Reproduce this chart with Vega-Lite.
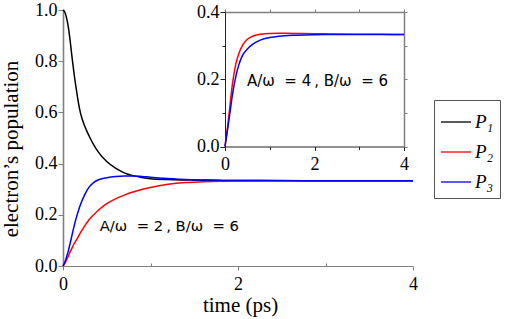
{
  "$schema": "https://vega.github.io/schema/vega-lite/v6.json",
  "width": 350,
  "height": 256,
  "autosize": {"type": "none"},
  "padding": {"left": 63, "top": 10, "right": 95, "bottom": 53},
  "background": "white",
  "config": {
    "view": {"stroke": null},
    "axis": {"grid": false, "labelFont": "Liberation Serif", "titleFont": "Liberation Serif", "titleFontWeight": 400},
    "style": {
      "guide-label": {"font": "Liberation Serif", "fontSize": 18, "fill": "black"},
      "guide-title": {"font": "Liberation Serif", "fontSize": 21, "fontWeight": 400, "fill": "black"}
    }
  },
  "datasets": {
    "main": [
      {"t": 0, "p": 1.0, "series": "P₁"}, {"t": 0.02, "p": 0.992, "series": "P₁"}, {"t": 0.04, "p": 0.970, "series": "P₁"}, {"t": 0.06, "p": 0.935, "series": "P₁"}, {"t": 0.08, "p": 0.885, "series": "P₁"}, {"t": 0.1, "p": 0.825, "series": "P₁"}, {"t": 0.125, "p": 0.755, "series": "P₁"}, {"t": 0.15, "p": 0.695, "series": "P₁"}, {"t": 0.175, "p": 0.640, "series": "P₁"}, {"t": 0.2, "p": 0.597, "series": "P₁"}, {"t": 0.25, "p": 0.545, "series": "P₁"}, {"t": 0.3, "p": 0.507, "series": "P₁"}, {"t": 0.35, "p": 0.474, "series": "P₁"}, {"t": 0.4, "p": 0.447, "series": "P₁"}, {"t": 0.5, "p": 0.408, "series": "P₁"}, {"t": 0.6, "p": 0.382, "series": "P₁"}, {"t": 0.7, "p": 0.364, "series": "P₁"}, {"t": 0.8, "p": 0.353, "series": "P₁"}, {"t": 0.9, "p": 0.346, "series": "P₁"}, {"t": 1.0, "p": 0.341, "series": "P₁"}, {"t": 1.2, "p": 0.3375, "series": "P₁"}, {"t": 1.4, "p": 0.336, "series": "P₁"}, {"t": 1.6, "p": 0.335, "series": "P₁"}, {"t": 1.8, "p": 0.3343, "series": "P₁"}, {"t": 2.0, "p": 0.3338, "series": "P₁"}, {"t": 2.5, "p": 0.3334, "series": "P₁"}, {"t": 3.0, "p": 0.3333, "series": "P₁"}, {"t": 4.0, "p": 0.3333, "series": "P₁"},
      {"t": 0, "p": 0, "series": "P₂"}, {"t": 0.02, "p": 0.010, "series": "P₂"}, {"t": 0.04, "p": 0.023, "series": "P₂"}, {"t": 0.06, "p": 0.037, "series": "P₂"}, {"t": 0.08, "p": 0.054, "series": "P₂"}, {"t": 0.1, "p": 0.068, "series": "P₂"}, {"t": 0.125, "p": 0.086, "series": "P₂"}, {"t": 0.15, "p": 0.100, "series": "P₂"}, {"t": 0.175, "p": 0.115, "series": "P₂"}, {"t": 0.2, "p": 0.130, "series": "P₂"}, {"t": 0.25, "p": 0.158, "series": "P₂"}, {"t": 0.3, "p": 0.182, "series": "P₂"}, {"t": 0.35, "p": 0.200, "series": "P₂"}, {"t": 0.4, "p": 0.217, "series": "P₂"}, {"t": 0.5, "p": 0.244, "series": "P₂"}, {"t": 0.6, "p": 0.262, "series": "P₂"}, {"t": 0.7, "p": 0.277, "series": "P₂"}, {"t": 0.8, "p": 0.289, "series": "P₂"}, {"t": 0.9, "p": 0.299, "series": "P₂"}, {"t": 1.0, "p": 0.307, "series": "P₂"}, {"t": 1.2, "p": 0.319, "series": "P₂"}, {"t": 1.4, "p": 0.326, "series": "P₂"}, {"t": 1.6, "p": 0.329, "series": "P₂"}, {"t": 1.8, "p": 0.331, "series": "P₂"}, {"t": 2.0, "p": 0.332, "series": "P₂"}, {"t": 2.5, "p": 0.3332, "series": "P₂"}, {"t": 3.0, "p": 0.3333, "series": "P₂"}, {"t": 4.0, "p": 0.3333, "series": "P₂"},
      {"t": 0, "p": 0, "series": "P₃"}, {"t": 0.02, "p": 0.014, "series": "P₃"}, {"t": 0.04, "p": 0.034, "series": "P₃"}, {"t": 0.06, "p": 0.058, "series": "P₃"}, {"t": 0.08, "p": 0.086, "series": "P₃"}, {"t": 0.1, "p": 0.116, "series": "P₃"}, {"t": 0.125, "p": 0.153, "series": "P₃"}, {"t": 0.15, "p": 0.186, "series": "P₃"}, {"t": 0.175, "p": 0.215, "series": "P₃"}, {"t": 0.2, "p": 0.240, "series": "P₃"}, {"t": 0.25, "p": 0.280, "series": "P₃"}, {"t": 0.3, "p": 0.309, "series": "P₃"}, {"t": 0.35, "p": 0.326, "series": "P₃"}, {"t": 0.4, "p": 0.336, "series": "P₃"}, {"t": 0.5, "p": 0.345, "series": "P₃"}, {"t": 0.6, "p": 0.350, "series": "P₃"}, {"t": 0.7, "p": 0.352, "series": "P₃"}, {"t": 0.8, "p": 0.352, "series": "P₃"}, {"t": 0.9, "p": 0.350, "series": "P₃"}, {"t": 1.0, "p": 0.347, "series": "P₃"}, {"t": 1.2, "p": 0.342, "series": "P₃"}, {"t": 1.4, "p": 0.338, "series": "P₃"}, {"t": 1.6, "p": 0.336, "series": "P₃"}, {"t": 1.8, "p": 0.3345, "series": "P₃"}, {"t": 2.0, "p": 0.334, "series": "P₃"}, {"t": 2.5, "p": 0.3335, "series": "P₃"}, {"t": 3.0, "p": 0.3333, "series": "P₃"}, {"t": 4.0, "p": 0.3333, "series": "P₃"}
    ],
    "inset": [
      {"t": 0, "p": 0, "series": "P₂"}, {"t": 0.04, "p": 0.040, "series": "P₂"}, {"t": 0.08, "p": 0.082, "series": "P₂"}, {"t": 0.12, "p": 0.132, "series": "P₂"}, {"t": 0.16, "p": 0.180, "series": "P₂"}, {"t": 0.2, "p": 0.215, "series": "P₂"}, {"t": 0.25, "p": 0.250, "series": "P₂"}, {"t": 0.3, "p": 0.273, "series": "P₂"}, {"t": 0.4, "p": 0.303, "series": "P₂"}, {"t": 0.5, "p": 0.319, "series": "P₂"}, {"t": 0.6, "p": 0.327, "series": "P₂"}, {"t": 0.8, "p": 0.334, "series": "P₂"}, {"t": 1.0, "p": 0.3362, "series": "P₂"}, {"t": 1.2, "p": 0.3365, "series": "P₂"}, {"t": 1.6, "p": 0.3362, "series": "P₂"}, {"t": 2.0, "p": 0.3355, "series": "P₂"}, {"t": 2.4, "p": 0.3345, "series": "P₂"}, {"t": 3.0, "p": 0.3338, "series": "P₂"}, {"t": 3.5, "p": 0.3335, "series": "P₂"}, {"t": 4.0, "p": 0.3334, "series": "P₂"},
      {"t": 0, "p": 0, "series": "P₃"}, {"t": 0.04, "p": 0.035, "series": "P₃"}, {"t": 0.08, "p": 0.072, "series": "P₃"}, {"t": 0.12, "p": 0.110, "series": "P₃"}, {"t": 0.16, "p": 0.148, "series": "P₃"}, {"t": 0.2, "p": 0.180, "series": "P₃"}, {"t": 0.25, "p": 0.213, "series": "P₃"}, {"t": 0.3, "p": 0.239, "series": "P₃"}, {"t": 0.4, "p": 0.273, "series": "P₃"}, {"t": 0.5, "p": 0.290, "series": "P₃"}, {"t": 0.6, "p": 0.302, "series": "P₃"}, {"t": 0.8, "p": 0.317, "series": "P₃"}, {"t": 1.0, "p": 0.324, "series": "P₃"}, {"t": 1.2, "p": 0.328, "series": "P₃"}, {"t": 1.6, "p": 0.331, "series": "P₃"}, {"t": 2.0, "p": 0.3325, "series": "P₃"}, {"t": 2.4, "p": 0.333, "series": "P₃"}, {"t": 3.0, "p": 0.3333, "series": "P₃"}, {"t": 3.5, "p": 0.3333, "series": "P₃"}, {"t": 4.0, "p": 0.3333, "series": "P₃"}
    ],
    "frame": [{"t": 0, "p": 0}, {"t": 4, "p": 0.4}]
  },
  "layer": [
    {
      "layer": [
        {
          "data": {"name": "main"},
          "mark": {"type": "line", "strokeWidth": 1.5, "interpolate": "monotone"},
          "encoding": {
            "x": {"field": "t", "type": "quantitative",
              "scale": {"domain": [0, 4], "nice": false, "zero": false},
              "axis": {"orient": "bottom", "title": "time (ps)", "titleFont": "Liberation Serif", "titleFontSize": 21, "titleFontWeight": 400, "titleColor": "black", "titleX": 177, "titleY": 45.5, "titleAlign": "center", "titleBaseline": "alphabetic",
                "values": [0, 1, 2, 3, 4], "labelExpr": "datum.value % 2 == 0 ? format(datum.value, 'd') : ''",
                "labelFont": "Liberation Serif", "labelFontSize": 18, "labelColor": "black",
                "domainColor": "#808080", "domainWidth": 1.2, "tickColor": "#808080",
                "tickSize": {"condition": {"test": "datum.value % 2 == 0", "value": 4}, "value": -3},
                "labelPadding": 5, "labelFlush": false}},
            "y": {"field": "p", "type": "quantitative",
              "scale": {"domain": [0, 1], "nice": false},
              "axis": {"orient": "left", "title": "electron’s population", "titleFont": "Liberation Serif", "titleFontSize": 21, "titleFontWeight": 400, "titleColor": "black", "titleX": -42, "titleY": 138.5, "titleAlign": "center", "titleAngle": -90, "titleBaseline": "bottom",
                "values": [0, 0.1, 0.2, 0.3, 0.4, 0.5, 0.6, 0.7, 0.8, 0.9, 1.0],
                "labelExpr": "round(datum.value * 10) % 2 == 0 ? format(datum.value, '.1f') : ''",
                "labelFont": "Liberation Serif", "labelFontSize": 18, "labelColor": "black",
                "domainColor": "#808080", "domainWidth": 1.6, "tickColor": "#808080",
                "tickSize": {"condition": {"test": "round(datum.value * 10) % 2 == 0", "value": 5}, "value": 3},
                "labelPadding": 1, "labelFlush": false}},
            "color": {"field": "series", "type": "nominal",
              "scale": {"domain": ["P₁", "P₂", "P₃"], "range": ["#000000", "#ff0000", "#0000ff"]},
              "legend": {"orient": "none", "legendX": 371, "legendY": 90, "title": null, "strokeColor": "#555555", "fillColor": "white", "padding": 6,
                "symbolType": "stroke", "symbolSize": 900, "symbolStrokeWidth": 1.3,
                "labelFont": "Liberation Serif", "labelFontStyle": "italic", "labelFontSize": 19, "labelColor": "black", "labelOffset": 3, "rowPadding": 4}}
          }
        },
        {
          "data": {"values": [{"t": 0.42, "p": 0.136, "label": "A/ω\u00a0\u00a0=\u00a02\u2009,\u00a0B/ω\u00a0\u00a0=\u00a06"}]},
          "mark": {"type": "text", "align": "left", "baseline": "alphabetic", "font": "DejaVu Sans", "fontSize": 14.8, "color": "black"},
          "encoding": {
            "x": {"field": "t", "type": "quantitative"},
            "y": {"field": "p", "type": "quantitative"},
            "text": {"field": "label"}
          }
        }
      ]
    },
    {
      "layer": [
        {
          "data": {"name": "inset"},
          "mark": {"type": "line", "strokeWidth": 1.5, "interpolate": "monotone"},
          "encoding": {
            "x": {"field": "t", "type": "quantitative",
              "scale": {"domain": [0, 4], "range": [162, 341], "nice": false, "zero": false},
              "axis": {"orient": "bottom", "offset": -119.5, "title": null,
                "values": [0, 1, 2, 3, 4], "labelExpr": "datum.value % 2 == 0 ? format(datum.value, 'd') : ''",
                "labelFont": "Liberation Serif", "labelFontSize": 18, "labelColor": "black",
                "domainColor": "#222222", "tickColor": "#222222",
                "tickSize": {"condition": {"test": "datum.value % 2 == 0", "value": 4}, "value": 3},
                "labelPadding": 5, "labelFlush": false}},
            "y": {"field": "p", "type": "quantitative",
              "scale": {"domain": [0, 0.4], "range": [136.5, 2], "nice": false},
              "axis": {"orient": "left", "offset": -162, "title": null,
                "values": [0, 0.1, 0.2, 0.3, 0.4],
                "labelExpr": "round(datum.value * 10) % 2 == 0 ? format(datum.value, '.1f') : ''",
                "labelFont": "Liberation Serif", "labelFontSize": 18, "labelColor": "black",
                "domainColor": "#222222", "tickColor": "#222222",
                "tickSize": {"condition": {"test": "round(datum.value * 10) % 2 == 0", "value": 5}, "value": 3},
                "labelPadding": 1, "labelFlush": false}},
            "color": {"field": "series", "type": "nominal", "legend": null}
          }
        },
        {
          "data": {"values": [{"t": 0.49, "p": 0.181, "label": "A/ω\u00a0\u00a0=\u00a04\u2009,\u00a0B/ω\u00a0\u00a0=\u00a06"}]},
          "mark": {"type": "text", "align": "left", "baseline": "alphabetic", "font": "DejaVu Sans", "fontSize": 15, "color": "black"},
          "encoding": {
            "x": {"field": "t", "type": "quantitative"},
            "y": {"field": "p", "type": "quantitative"},
            "text": {"field": "label"}
          }
        }
      ]
    },
    {
      "data": {"name": "frame"},
      "mark": {"type": "point", "opacity": 0},
      "encoding": {
        "x": {"field": "t", "type": "quantitative",
          "scale": {"domain": [0, 4], "range": [162, 341], "nice": false, "zero": false},
          "axis": {"orient": "top", "offset": -2, "title": null, "labels": false,
            "values": [0, 1, 2, 3, 4], "domainColor": "#808080", "domainWidth": 1.5, "tickColor": "#808080", "tickSize": 3}},
        "y": {"field": "p", "type": "quantitative",
          "scale": {"domain": [0, 0.4], "range": [136.5, 2], "nice": false},
          "axis": {"orient": "right", "offset": -9, "title": null, "labels": false,
            "values": [0, 0.1, 0.2, 0.3, 0.4], "domainColor": "#808080", "domainWidth": 1.5, "tickColor": "#808080", "tickSize": 3}}
      }
    }
  ],
  "resolve": {"scale": {"x": "independent", "y": "independent"}}
}
